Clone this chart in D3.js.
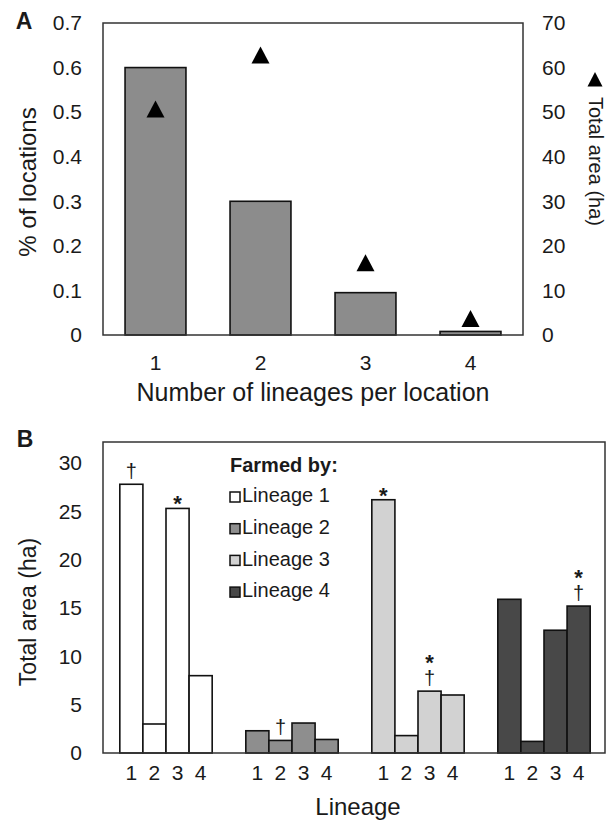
<!DOCTYPE html>
<html>
<head>
<meta charset="utf-8">
<script src="https://cdn.jsdelivr.net/npm/d3@7"></script>
<style>
  html, body { margin: 0; padding: 0; background: #fff; }
  svg { display: block; font-family: Arial, "Liberation Sans", sans-serif; }
  text { fill: #1a1a1a; }
</style>
</head>
<body>
<svg id="chart" width="606" height="820"></svg>
<script>
// Panel A: share of locations by number of lineages, with total area (triangles)
const lineageCounts = ["1", "2", "3", "4"];
const shareOfLocations = [0.6, 0.3, 0.095, 0.008];
const totalAreaA = [50.5, 62.6, 16.0, 3.5];
const leftTicksA = [0, 0.1, 0.2, 0.3, 0.4, 0.5, 0.6, 0.7];
const rightTicksA = [0, 10, 20, 30, 40, 50, 60, 70];

// Panel B: total area of each lineage's locations, split by the farming lineage
const farmers = ["Lineage 1", "Lineage 2", "Lineage 3", "Lineage 4"];
const lineages = ["1", "2", "3", "4"];
const areaByLineage1 = [27.8, 3.0, 25.3, 8.0];
const areaByLineage2 = [2.3, 1.3, 3.1, 1.4];
const areaByLineage3 = [26.2, 1.8, 6.4, 6.0];
const areaByLineage4 = [15.9, 1.2, 12.7, 15.2];
const farmerColors = ["#ffffff", "#8e8e8e", "#d2d2d2", "#484848"];
const ticksB = [0, 5, 10, 15, 20, 25, 30];
// significance marks: [farmer index, lineage index, marks from top to bottom]
const marks = [
  [0, 0, ["†"]], [0, 2, ["*"]],
  [1, 1, ["†"]],
  [2, 0, ["*"]], [2, 2, ["*", "†"]],
  [3, 3, ["*", "†"]]
];

const svg = d3.select("#chart");
const FONT = "Arial, 'Liberation Sans', sans-serif";
const tickFont = 21;

function styleTicks(g) {
  g.select(".domain").remove();
  g.selectAll("text").attr("font-size", tickFont).attr("font-family", FONT).attr("fill", "#1a1a1a");
}

// ---------- Panel A ----------
const A = { left: 103, right: 523, top: 23, bottom: 335 };
const xA = d3.scaleBand().domain(lineageCounts).range([A.left, A.right])
  .paddingInner(0.42).paddingOuter(0.21);
const yA = d3.scaleLinear().domain([0, 0.7]).range([A.bottom, A.top]);
const yA2 = d3.scaleLinear().domain([0, 70]).range([A.bottom, A.top]);

const gA = svg.append("g");
gA.selectAll("rect.bar").data(lineageCounts).join("rect")
  .attr("class", "bar")
  .attr("x", d => xA(d))
  .attr("width", xA.bandwidth())
  .attr("y", (d, i) => yA(shareOfLocations[i]))
  .attr("height", (d, i) => yA(0) - yA(shareOfLocations[i]))
  .attr("fill", "#8c8c8c").attr("stroke", "#111").attr("stroke-width", 1.6);

const tri = "M0,-9.5L9,7.5L-9,7.5Z";
gA.selectAll("path.tri").data(lineageCounts).join("path")
  .attr("class", "tri")
  .attr("d", tri)
  .attr("transform", (d, i) => `translate(${xA(d) + xA.bandwidth() / 2},${yA2(totalAreaA[i])})`)
  .attr("fill", "#000");

gA.append("rect").attr("x", A.left).attr("y", A.top)
  .attr("width", A.right - A.left).attr("height", A.bottom - A.top)
  .attr("fill", "none").attr("stroke", "#333").attr("stroke-width", 1.5);

gA.append("g").attr("transform", `translate(${A.left},0)`)
  .call(d3.axisLeft(yA).tickValues(leftTicksA).tickSize(0).tickPadding(21)
    .tickFormat(d => d === 0 ? "0" : d3.format(".1f")(d)))
  .call(styleTicks);
gA.append("g").attr("transform", `translate(${A.right},0)`)
  .call(d3.axisRight(yA2).tickValues(rightTicksA).tickSize(0).tickPadding(19))
  .call(styleTicks);
gA.append("g").attr("transform", `translate(0,${A.bottom})`)
  .call(d3.axisBottom(xA).tickSize(0).tickPadding(20))
  .call(styleTicks);

gA.append("text").attr("x", 24).attr("y", 23).attr("text-anchor", "middle")
  .attr("dominant-baseline", "middle")
  .attr("font-size", 23).attr("font-weight", "bold").text("A");
gA.append("text")
  .attr("transform", `translate(30,${(A.top + A.bottom) / 2 + 3}) rotate(-90)`)
  .attr("text-anchor", "middle").attr("dominant-baseline", "middle")
  .attr("font-size", 24).text("% of locations");
gA.append("path").attr("d", "M0,-8L7.5,6.5L-7.5,6.5Z")
  .attr("transform", `translate(595,80)`).attr("fill", "#000");
gA.append("text")
  .attr("transform", `translate(594,97) rotate(90)`)
  .attr("text-anchor", "start").attr("dominant-baseline", "middle")
  .attr("font-size", 20).text("Total area (ha)");
gA.append("text").attr("x", (A.left + A.right) / 2).attr("y", 401)
  .attr("text-anchor", "middle")
  .attr("font-size", 25).text("Number of lineages per location");

// ---------- Panel B ----------
const B = { left: 103, right: 607, top: 442, bottom: 753 };
const seriesB = [areaByLineage1, areaByLineage2, areaByLineage3, areaByLineage4];
const xB = d3.scaleBand().domain(farmers).range([B.left, B.right])
  .paddingInner(0.267).paddingOuter(0.1335);
const xInner = d3.scaleBand().domain(lineages).range([0, xB.bandwidth()]);
const yB = d3.scaleLinear().domain([0, 30]).range([B.bottom, 463]);

const gB = svg.append("g");
const groups = gB.selectAll("g.grp").data(farmers).join("g")
  .attr("class", "grp")
  .attr("transform", d => `translate(${xB(d)},0)`);
groups.each(function (f, fi) {
  const g = d3.select(this);
  g.selectAll("rect").data(seriesB[fi]).join("rect")
    .attr("x", (v, i) => xInner(lineages[i]))
    .attr("width", xInner.bandwidth())
    .attr("y", v => yB(v))
    .attr("height", v => yB(0) - yB(v))
    .attr("fill", farmerColors[fi]).attr("stroke", "#111").attr("stroke-width", 1.6);
  g.append("g").attr("transform", `translate(0,${B.bottom})`)
    .call(d3.axisBottom(xInner).tickSize(0).tickPadding(12))
    .call(styleTicks);
});

// significance symbols above bars; stacked symbols share one text element
marks.forEach(([fi, li, syms]) => {
  const cx = xB(farmers[fi]) + xInner(lineages[li]) + xInner.bandwidth() / 2;
  const top = yB(seriesB[fi][li]);
  const n = syms.length;
  const t = gB.append("text").attr("x", cx).attr("text-anchor", "middle");
  syms.forEach((s, k) => {
    const isStar = s === "*";
    const fromBottom = n - 1 - k;
    t.append("tspan").attr("x", cx)
      .attr("y", top - 6 - fromBottom * 24 + (isStar ? 9 : 0))
      .attr("font-size", isStar ? 22 : 20)
      .attr("font-weight", isStar ? "bold" : "normal")
      .text(s);
  });
});

gB.append("path")
  .attr("d", `M${B.left},${B.bottom}V${B.top}H605V${B.bottom}Z`)
  .attr("fill", "none").attr("stroke", "#333").attr("stroke-width", 1.5);

gB.append("g").attr("transform", `translate(${B.left},0)`)
  .call(d3.axisLeft(yB).tickValues(ticksB).tickSize(0).tickPadding(21))
  .call(styleTicks);

gB.append("text").attr("x", 25).attr("y", 441).attr("text-anchor", "middle")
  .attr("dominant-baseline", "middle")
  .attr("font-size", 23).attr("font-weight", "bold").text("B");
gB.append("text")
  .attr("transform", `translate(30,612) rotate(-90)`)
  .attr("text-anchor", "middle").attr("dominant-baseline", "middle")
  .attr("font-size", 23).text("Total area (ha)");
gB.append("text").attr("x", 358).attr("y", 815)
  .attr("text-anchor", "middle")
  .attr("font-size", 24).text("Lineage");

// legend
const leg = gB.append("g").attr("transform", "translate(230,467)");
leg.append("text").attr("x", 0).attr("y", 0).attr("dominant-baseline", "middle")
  .attr("font-size", 20).attr("font-weight", "bold").text("Farmed by:");
const items = leg.selectAll("g.item").data(farmers).join("g")
  .attr("class", "item")
  .attr("transform", (d, i) => `translate(0,${30 + i * 31.7})`);
items.append("rect").attr("x", 0).attr("y", -5).attr("width", 10).attr("height", 10)
  .attr("fill", (d, i) => farmerColors[i]).attr("stroke", "#111").attr("stroke-width", 1.5);
items.append("text").attr("x", 12).attr("y", 0).attr("dominant-baseline", "middle")
  .attr("font-size", 20).text(d => d);
</script>
</body>
</html>
